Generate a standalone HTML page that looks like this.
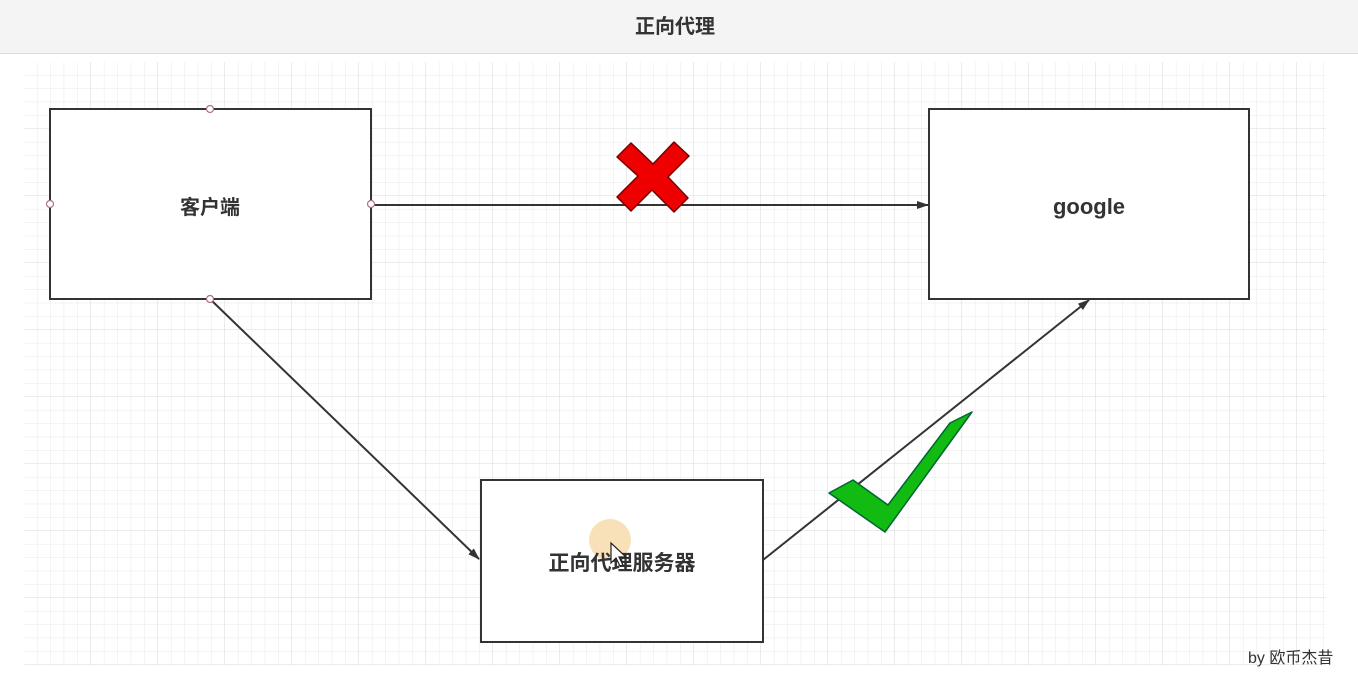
<!DOCTYPE html>
<html><head><meta charset="utf-8"><style>
html,body{margin:0;padding:0;width:1358px;height:676px;overflow:hidden;background:#fff;font-family:"Liberation Sans","Noto Sans CJK SC",sans-serif;}
</style></head><body>
<svg width="1358" height="676" viewBox="0 0 1358 676" xmlns="http://www.w3.org/2000/svg">
<defs>
<pattern id="minor" width="13.4" height="13.4" patternUnits="userSpaceOnUse" x="24" y="62">
<path d="M13.4 0V13.4H0" fill="none" stroke="#e8e8e8" stroke-width="1"/>
</pattern>
<pattern id="major" width="67" height="67" patternUnits="userSpaceOnUse" x="24" y="62">
<path d="M67 0V67H0" fill="none" stroke="#d8d8d8" stroke-width="1"/>
</pattern>
<marker id="ar" markerWidth="12" markerHeight="10" refX="11" refY="5" orient="auto" markerUnits="userSpaceOnUse">
<path d="M0 1L12 5L0 9Z" fill="#333"/>
</marker>
</defs>
<rect x="0" y="0" width="1358" height="53" fill="#f4f4f4"/>
<line x1="0" y1="53.5" x2="1358" y2="53.5" stroke="#dcdcdc"/>
<text x="675" y="33" text-anchor="middle" font-size="20" font-weight="bold" fill="#333">正向代理</text>
<rect x="24" y="62" width="1302" height="603" fill="url(#minor)"/>
<rect x="24" y="62" width="1302" height="603" fill="url(#major)"/>
<line x1="371" y1="205" x2="928" y2="205" stroke="#333" stroke-width="2" marker-end="url(#ar)"/>
<line x1="210" y1="299" x2="479" y2="559" stroke="#333" stroke-width="2" marker-end="url(#ar)"/>
<line x1="763" y1="560" x2="1089" y2="300" stroke="#333" stroke-width="2" marker-end="url(#ar)"/>
<rect x="50" y="109" width="321" height="190" fill="#fff" stroke="#333" stroke-width="2"/>
<rect x="929" y="109" width="320" height="190" fill="#fff" stroke="#333" stroke-width="2"/>
<rect x="481" y="480" width="282" height="162" fill="#fff" stroke="#333" stroke-width="2"/>
<g fill="#fff" stroke="#b07080" stroke-width="1.2">
<circle cx="210" cy="109" r="3.5"/><circle cx="50" cy="204" r="3.5"/><circle cx="371" cy="204" r="3.5"/><circle cx="210" cy="299" r="3.5"/>
</g>
<text x="210" y="214" text-anchor="middle" font-size="20" font-weight="bold" fill="#333">客户端</text>
<text x="1089" y="214" text-anchor="middle" font-size="22" font-weight="bold" fill="#333">google</text>
<circle cx="610" cy="540" r="21" fill="#f6d9a8" opacity="0.8"/>
<text x="622" y="570" text-anchor="middle" font-size="21" font-weight="bold" fill="#333">正向代理服务器</text>
<path d="M611 543L611 563L616 558L620 566L623 565L619 557L626 557Z" fill="#fff" stroke="#222" stroke-width="1.2"/>
<polygon points="617,157 631,143 653,164 674,142 689,156 668,177 688,198 674,212 652,190 631,211 617,197 638,176" fill="#ee0000" stroke="#7a0000" stroke-width="1.5" stroke-linejoin="round"/>
<polygon points="829,493 853,480 888,505 950,423 972,412 885,532" fill="#11bb11" stroke="#063" stroke-width="1.5" stroke-linejoin="round"/>
<text x="1248" y="663" font-size="16" fill="#333">by  欧币杰昔</text>
</svg>
</body></html>
